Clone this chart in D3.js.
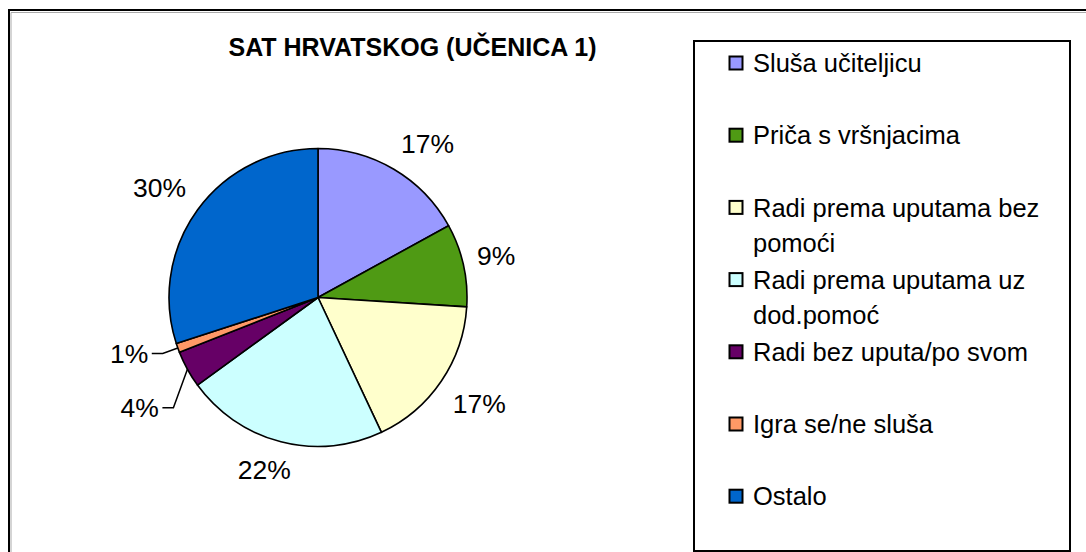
<!DOCTYPE html>
<html><head><meta charset="utf-8">
<script src="https://cdn.jsdelivr.net/npm/d3@7"></script>
<style>
html,body{margin:0;padding:0;background:#fff;}
svg{display:block;font-family:"Liberation Sans",Arial,sans-serif;}
</style></head>
<body>
<svg id="chart" width="1086" height="552"></svg>
<script>
const title = "SAT HRVATSKOG (UČENICA 1)";
const categories = ["Sluša učiteljicu","Priča s vršnjacima","Radi prema uputama bez pomoći","Radi prema uputama uz dod.pomoć","Radi bez uputa/po svom","Igra se/ne sluša","Ostalo"];
const values = [17, 9, 17, 22, 4, 1, 30];
const colors = ["#9999FF","#4F9A14","#FFFFCC","#CCFFFF","#660066","#FF9966","#0066CC"];

const svg = d3.select("#chart");
const W = 1086, H = 552;

// outer chart frame (extends past right/bottom edge)
svg.append("rect").attr("x",9).attr("y",10).attr("width",W+20).attr("height",H+20)
  .attr("fill","none").attr("stroke","#000").attr("stroke-width",2);
svg.append("path").attr("d",`M11,${H+10}V12.5H${W+10}`).attr("fill","none").attr("stroke","#aaa").attr("stroke-width",1);

// title
svg.append("text").attr("x",412.5).attr("y",56).attr("text-anchor","middle")
  .attr("font-weight","bold").attr("font-size",25).text(title);

// pie
const cx = 318, cy = 297.5, R = 149;
const total = d3.sum(values);
const pie = d3.pie().sort(null).value(d=>d.v);
const arcs = pie(values.map((v,i)=>({v,i})));
const arc = d3.arc().innerRadius(0).outerRadius(R);
const g = svg.append("g").attr("transform",`translate(${cx},${cy})`);
g.selectAll("path.slice").data(arcs).join("path").attr("class","slice")
  .attr("d",arc).attr("fill",d=>colors[d.data.i]).attr("stroke","#000").attr("stroke-width",1.6)
  .attr("stroke-linejoin","round");

// data labels
const fs = 26.5;
const pct = d=>Math.round(d.data.v/total*100)+"%";
const labelR = R + 14, hh = 14, k = 2;
const clamp = v=>Math.max(-1,Math.min(1,v));
const leaderLabels = [];
arcs.forEach(d=>{
  const a = (d.startAngle+d.endAngle)/2, s = Math.sin(a), c = Math.cos(a);
  if (d.data.v/total >= 0.05) {
    const t = g.append("text").attr("font-size",fs).attr("text-anchor","middle").text(pct(d));
    const w = t.node().getComputedTextLength();
    const x = s*labelR + clamp(s*k)*w/2, y = -c*labelR - clamp(c*k)*hh;
    t.attr("x",x).attr("y",y+0.36*fs);
  } else {
    leaderLabels.push({d, a, s, c, ex: s*(R+16), ey: -c*(R+16)});
  }
});
// resolve overlaps of leader labels (top to bottom)
leaderLabels.sort((p,q)=>p.ey-q.ey);
const minGap = 2.05*fs;
for (let i=1;i<leaderLabels.length;i++){
  const p = leaderLabels[i-1], q = leaderLabels[i];
  if (q.ey - p.ey < minGap) q.ey = p.ey + minGap;
}
leaderLabels.forEach(L=>{
  const px = L.s*R, py = -L.c*R;
  const dir = L.s < 0 ? -1 : 1;
  const hx = L.ex + dir*11;
  g.append("path").attr("d",`M${px},${py}L${L.ex},${L.ey}L${hx},${L.ey}`)
    .attr("fill","none").attr("stroke","#000").attr("stroke-width",1.5);
  g.append("text").attr("font-size",fs).attr("text-anchor",dir<0?"end":"start")
    .attr("x",hx + dir*3.5).attr("y",L.ey+0.36*fs).text(pct(L.d));
});

// legend
const lx = 694, ly = 41, lw = 376, lh = 510;
svg.append("rect").attr("x",lx).attr("y",ly).attr("width",lw).attr("height",lh)
  .attr("fill","#fff").attr("stroke","#000").attr("stroke-width",2);
const lfs = 25.5, rowStep = 72.2, row0 = 63, lineH = 35, maxW = 300;
const lg = svg.append("g");
categories.forEach((name,i)=>{
  const yc = row0 + i*rowStep;
  lg.append("rect").attr("x",729.5).attr("y",yc-6.5).attr("width",13).attr("height",13)
    .attr("fill",colors[i]).attr("stroke","#000").attr("stroke-width",2);
  const t = lg.append("text").attr("font-size",lfs).attr("x",753).attr("y",yc+0.36*lfs);
  const words = name.split(" ");
  let line = [], tspan = t.append("tspan").attr("x",753);
  words.forEach(wd=>{
    line.push(wd); tspan.text(line.join(" "));
    if (tspan.node().getComputedTextLength() > maxW && line.length>1){
      line.pop(); tspan.text(line.join(" "));
      line=[wd];
      tspan = t.append("tspan").attr("x",753).attr("dy",lineH).text(wd);
    }
  });
});
</script>
</body></html>
